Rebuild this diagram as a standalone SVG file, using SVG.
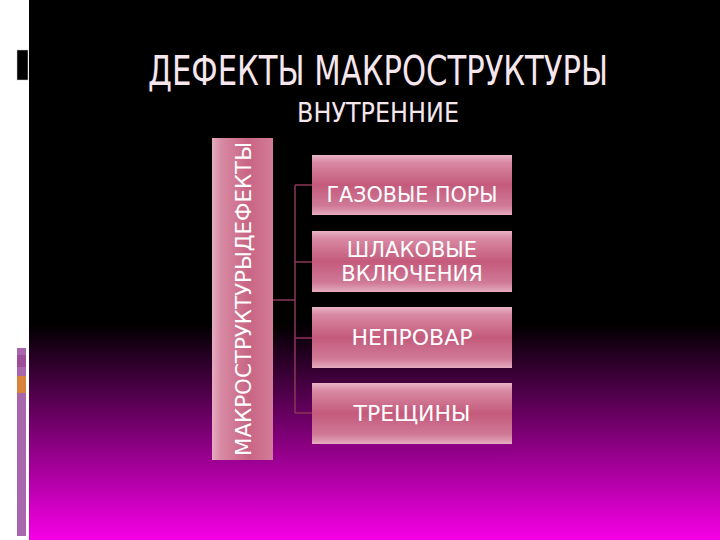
<svg xmlns="http://www.w3.org/2000/svg" width="720" height="540" viewBox="0 0 720 540">
<defs>
<linearGradient id="bg" x1="0" y1="0" x2="0" y2="1">
<stop offset="0" stop-color="#000"/>
<stop offset="0.6" stop-color="#000"/>
<stop offset="1" stop-color="#f600e6"/>
</linearGradient>
<linearGradient id="box" x1="0" y1="0" x2="0" y2="1">
<stop offset="0" stop-color="#e8b4c6"/>
<stop offset="0.12" stop-color="#d98aa4"/>
<stop offset="0.5" stop-color="#c45a7c"/>
<stop offset="0.85" stop-color="#d07a98"/>
<stop offset="1" stop-color="#e6acc0"/>
</linearGradient>
<linearGradient id="vbox" x1="0" y1="0" x2="1" y2="0">
<stop offset="0" stop-color="#e6acc0"/>
<stop offset="0.15" stop-color="#d88aa4"/>
<stop offset="0.6" stop-color="#c86584"/>
<stop offset="1" stop-color="#d27c98"/>
</linearGradient>
</defs>
<style>
.t{font-family:"DejaVu Sans","Open Sans",sans-serif;fill:#fff;text-anchor:middle}
.c{stroke:#8c3658;stroke-width:1.5;fill:none}
</style>
<rect width="720" height="540" fill="#fff"/>
<rect x="29" y="0" width="691" height="540" fill="url(#bg)"/>
<rect x="17" y="50" width="11" height="30" fill="#000" stroke="#ccc" stroke-width="0.5"/>
<rect x="17" y="348" width="9" height="188" fill="#a866ac"/>
<rect x="17" y="355" width="9" height="12" fill="#9c4e98"/>
<rect x="17" y="376" width="9" height="17" fill="#d8823c"/>
<text x="378" y="85" font-family="'DejaVu Sans Condensed','DejaVu Sans',sans-serif" font-size="40" fill="#f6e6ee" text-anchor="middle" textLength="460" lengthAdjust="spacingAndGlyphs">ДЕФЕКТЫ МАКРОСТРУКТУРЫ</text>
<text x="378" y="122" font-family="'DejaVu Sans Condensed','DejaVu Sans',sans-serif" font-size="26" fill="#f6e6ee" text-anchor="middle" textLength="162" lengthAdjust="spacingAndGlyphs">ВНУТРЕННИЕ</text>
<g id="connectors">
<path class="c" d="M273 300H295M295 185V413M295 185H313M295 262H313M295 338H313M295 413H313"/>
</g>
<g id="root">
<rect x="212" y="138" width="61" height="322" fill="url(#vbox)"/>
<text class="t" transform="translate(251 299) rotate(-90)" font-size="21" textLength="314" lengthAdjust="spacingAndGlyphs">МАКРОСТРУКТУРЫДЕФЕКТЫ</text>
</g>
<g id="n1">
<rect x="312" y="155" width="200" height="60" fill="url(#box)"/>
<text class="t" x="412" y="202" font-size="22" textLength="171" lengthAdjust="spacingAndGlyphs">ГАЗОВЫЕ ПОРЫ</text>
</g>
<g id="n2">
<rect x="312" y="231" width="200" height="61" fill="url(#box)"/>
<text class="t" x="412" y="257" font-size="21">ШЛАКОВЫЕ</text>
<text class="t" x="412" y="281" font-size="21">ВКЛЮЧЕНИЯ</text>
</g>
<g id="n3">
<rect x="312" y="307" width="200" height="61" fill="url(#box)"/>
<text class="t" x="412" y="345" font-size="22">НЕПРОВАР</text>
</g>
<g id="n4">
<rect x="312" y="383" width="200" height="61" fill="url(#box)"/>
<text class="t" x="412" y="421" font-size="22">ТРЕЩИНЫ</text>
</g>
</svg>
